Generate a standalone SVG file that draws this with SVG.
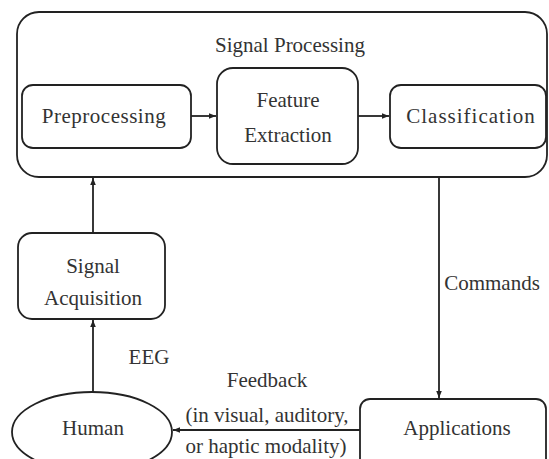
<svg xmlns="http://www.w3.org/2000/svg" width="549" height="459" viewBox="0 0 549 459">
<defs>
<style>
.box{fill:#fff;stroke:#222;stroke-width:1.8}
.t{font-family:"Liberation Serif","Times New Roman",serif;font-size:21px;fill:#333;text-anchor:middle}
.c{stroke:#222;stroke-width:1.8;fill:none}
</style>
<marker id="ah" viewBox="0 0 10 10" refX="10" refY="5" markerWidth="7" markerHeight="7" orient="auto" markerUnits="userSpaceOnUse">
<path d="M0,1 L10,5 L0,9 Z" fill="#222"/>
</marker>
</defs>
<rect width="549" height="459" fill="#fff"/>
<g id="signal-processing">
<rect class="box" x="17" y="12" width="530" height="165" rx="22"/>
<text class="t" x="290" y="52">Signal Processing</text>
</g>
<g id="preprocessing">
<rect class="box" x="22" y="85" width="169" height="63" rx="11"/>
<text class="t" x="104" y="123" letter-spacing="0.5">Preprocessing</text>
</g>
<g id="feature-extraction">
<rect class="box" x="217" y="68" width="141" height="96" rx="16"/>
<text class="t" x="288" y="107">Feature</text>
<text class="t" x="288" y="142">Extraction</text>
</g>
<g id="classification">
<rect class="box" x="390" y="85" width="156" height="63" rx="11"/>
<text class="t" x="471" y="123" letter-spacing="1">Classification</text>
</g>
<g id="signal-acquisition">
<rect class="box" x="18" y="233" width="147" height="86" rx="14"/>
<text class="t" x="93" y="273">Signal</text>
<text class="t" x="93" y="305">Acquisition</text>
</g>
<g id="human">
<ellipse class="box" cx="92" cy="432" rx="80" ry="40"/>
<text class="t" x="93" y="435">Human</text>
</g>
<g id="applications">
<rect class="box" x="360" y="399" width="186" height="75" rx="10"/>
<text class="t" x="457" y="435">Applications</text>
</g>
<g id="connectors">
<line class="c" x1="191" y1="116" x2="216" y2="116" marker-end="url(#ah)"/>
<line class="c" x1="358" y1="116" x2="389" y2="116" marker-end="url(#ah)"/>
<line class="c" x1="93" y1="233" x2="93" y2="178" marker-end="url(#ah)"/>
<line class="c" x1="93" y1="392" x2="93" y2="320" marker-end="url(#ah)"/>
<line class="c" x1="439" y1="177" x2="439" y2="398" marker-end="url(#ah)"/>
<line class="c" x1="360" y1="430" x2="173" y2="430" marker-end="url(#ah)"/>
<text class="t" x="149" y="364">EEG</text>
<text class="t" x="492" y="290">Commands</text>
<text class="t" x="267" y="387">Feedback</text>
<text class="t" x="267" y="422">(in visual, auditory,</text>
<text class="t" x="266" y="453">or haptic modality)</text>
</g>
</svg>
